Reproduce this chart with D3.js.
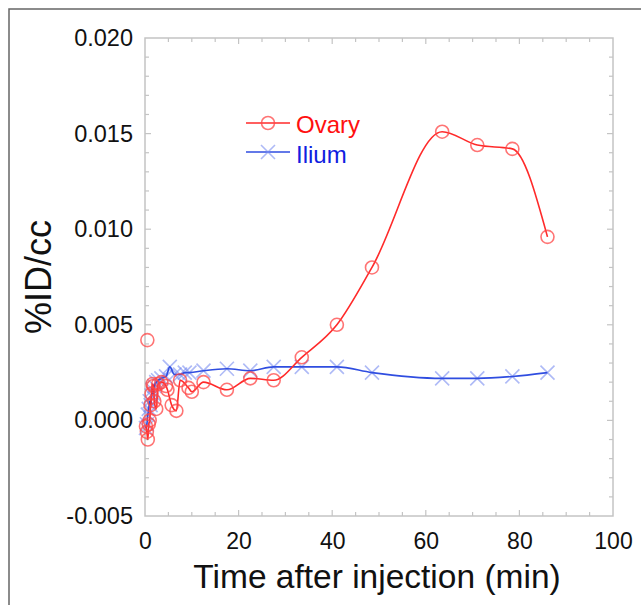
<!DOCTYPE html>
<html>
<head>
<meta charset="utf-8">
<script src="https://cdn.jsdelivr.net/npm/d3@7"></script>
<style>
  body { margin: 0; background: #fff; }
  svg { display: block; font-family: 'Liberation Sans', Arial, sans-serif; }
</style>
</head>
<body>
<svg id="chart" width="641" height="605"></svg>
<script>
// time (min)
const ovaryT = [0.2, 0.4, 0.6, 0.8, 1.0, 1.2, 1.4, 1.6, 1.8, 2.0, 2.4, 2.8, 3.5, 4.5, 4.8, 5.7, 6.7, 7.5, 9.3, 10, 12.5, 17.5, 22.5, 27.5, 33.5, 41, 48.5, 63.5, 71, 78.5, 86]
const ovaryV = [-0.0003, -0.0006, -0.0010, -0.0002, 0.0000, 0.0008, 0.0014, 0.0019, 0.0018, 0.0010, 0.0006, 0.0019, 0.0020, 0.0018, 0.0016, 0.0008, 0.0005, 0.0021, 0.0017, 0.0015, 0.0020, 0.0016, 0.0022, 0.0021, 0.0033, 0.0050, 0.0080, 0.0151, 0.0144, 0.0142, 0.0096]
// isolated early sample, marker only
const ovaryOutT = [0.5]
const ovaryOutV = [0.0042]

const iliumT = [0.2, 0.4, 0.6, 0.8, 1.0, 1.2, 1.4, 1.6, 1.8, 2.0, 2.4, 2.8, 3.5, 4.5, 5.3, 6.3, 7.5, 8.5, 9.5, 12.5, 17.5, 22.5, 27.5, 33.5, 41, 48.5, 63.5, 71, 78.5, 86]
const iliumV = [-0.0004, -0.0002, 0.0003, 0.0006, 0.0010, 0.0008, 0.0013, 0.0016, 0.0014, 0.0018, 0.0020, 0.0021, 0.0022, 0.0023, 0.0028, 0.0024, 0.0024, 0.0025, 0.0025, 0.0026, 0.0027, 0.0026, 0.0028, 0.0028, 0.0028, 0.0025, 0.0022, 0.0022, 0.0023, 0.0025]

const xTicks = [0, 20, 40, 60, 80, 100]
const yTicks = [-0.005, 0, 0.005, 0.010, 0.015, 0.020]

const svg = d3.select('#chart')
const pLeft = 145
const pRight = 613
const pTop = 38
const pBottom = 516

const x = d3.scaleLinear().domain([0, 100]).range([pLeft, pRight])
const y = d3.scaleLinear().domain([-0.005, 0.020]).range([pBottom, pTop])

// outer border
svg.append('path')
  .attr('d', 'M9,605 L9,9 L641,9')
  .attr('fill', 'none')
  .attr('stroke', '#666')
  .attr('stroke-width', 1.5)

const frameColor = '#c4c4c4'
svg.append('rect')
  .attr('x', pLeft).attr('y', pTop)
  .attr('width', pRight - pLeft).attr('height', pBottom - pTop)
  .attr('fill', 'none')
  .attr('stroke', frameColor)
  .attr('stroke-width', 1.5)

// inward ticks on all four sides
const xMinor = d3.range(5, 100, 5)
const yMinor = d3.range(-0.004, 0.0195, 0.001)
const tickG = svg.append('g').attr('stroke', frameColor).attr('stroke-width', 1.2)
xMinor.forEach(function (t) {
  const len = t % 20 === 0 ? 6 : 4
  tickG.append('line').attr('x1', x(t)).attr('x2', x(t)).attr('y1', pBottom).attr('y2', pBottom - len)
  tickG.append('line').attr('x1', x(t)).attr('x2', x(t)).attr('y1', pTop).attr('y2', pTop + len)
})
yMinor.forEach(function (v) {
  const major = Math.abs(Math.round(v * 1000) % 5) === 0
  const len = major ? 6 : 4
  tickG.append('line').attr('x1', pLeft).attr('x2', pLeft + len).attr('y1', y(v)).attr('y2', y(v))
  tickG.append('line').attr('x1', pRight).attr('x2', pRight - len).attr('y1', y(v)).attr('y2', y(v))
})

// tick labels
const xAxis = d3.axisBottom(x).tickValues(xTicks).tickSize(0).tickPadding(17)
svg.append('g').attr('transform', 'translate(0,' + pBottom + ')').call(xAxis)
  .call(g => g.select('.domain').remove())
  .selectAll('text').attr('font-size', 23).attr('fill', '#111')
  .attr('font-family', "'Liberation Sans', Arial, sans-serif")

const fmt = d3.format('.3f')
const yAxis = d3.axisLeft(y).tickValues(yTicks).tickSize(0).tickPadding(12)
  .tickFormat(d => fmt(d).replace('\u2212', '-'))
svg.append('g').attr('transform', 'translate(' + pLeft + ',0)').call(yAxis)
  .call(g => g.select('.domain').remove())
  .selectAll('text').attr('font-size', 23.5).attr('fill', '#111')
  .attr('font-family', "'Liberation Sans', Arial, sans-serif")

svg.append('text')
  .text('Time after injection (min)')
  .attr('x', 377).attr('y', 588)
  .attr('text-anchor', 'middle')
  .attr('font-size', 33.5).attr('fill', '#111')

svg.append('text')
  .text('%ID/cc')
  .attr('transform', 'translate(51,277) rotate(-90)')
  .attr('text-anchor', 'middle')
  .attr('font-size', 36).attr('fill', '#111')

const line = d3.line().curve(d3.curveMonotoneX)
const ovaryPts = ovaryT.map((t, i) => [x(t), y(ovaryV[i])])
const iliumPts = iliumT.map((t, i) => [x(t), y(iliumV[i])])

const red = '#ff2a2a'
const redMark = 'rgba(255,70,70,0.75)'
const blue = '#2f4de0'
const blueMark = 'rgba(120,140,240,0.6)'

function cross (g, cx, cy, s) {
  g.append('path')
    .attr('d', `M${cx - s},${cy - s}L${cx + s},${cy + s}M${cx - s},${cy + s}L${cx + s},${cy - s}`)
    .attr('stroke', blueMark).attr('stroke-width', 1.6).attr('fill', 'none')
}

// ilium
const gI = svg.append('g')
iliumPts.forEach(p => cross(gI, p[0], p[1], 7))
gI.append('path').attr('d', line(iliumPts))
  .attr('fill', 'none').attr('stroke', blue).attr('stroke-width', 1.6)

// ovary
const gO = svg.append('g')
gO.append('path').attr('d', line(ovaryPts))
  .attr('fill', 'none').attr('stroke', red).attr('stroke-width', 1.6)
ovaryPts.concat(ovaryOutT.map((t, i) => [x(t), y(ovaryOutV[i])])).forEach(function (p) {
  gO.append('circle').attr('cx', p[0]).attr('cy', p[1]).attr('r', 6.5)
    .attr('fill', 'none').attr('stroke', redMark).attr('stroke-width', 1.6)
})

// legend
const lg = svg.append('g')
lg.append('line').attr('x1', 246).attr('x2', 290).attr('y1', 123).attr('y2', 123)
  .attr('stroke', red).attr('stroke-width', 1.6)
lg.append('circle').attr('cx', 268).attr('cy', 123).attr('r', 6.5)
  .attr('fill', 'none').attr('stroke', redMark).attr('stroke-width', 1.6)
lg.append('text').text('Ovary').attr('x', 296).attr('y', 133)
  .attr('font-size', 24).attr('fill', '#ff1010')
lg.append('line').attr('x1', 246).attr('x2', 290).attr('y1', 152).attr('y2', 152)
  .attr('stroke', blue).attr('stroke-width', 1.6)
cross(lg, 268, 152, 7)
lg.append('text').text('Ilium').attr('x', 296).attr('y', 163)
  .attr('font-size', 24).attr('fill', '#1020e0')
</script>
</body>
</html>
